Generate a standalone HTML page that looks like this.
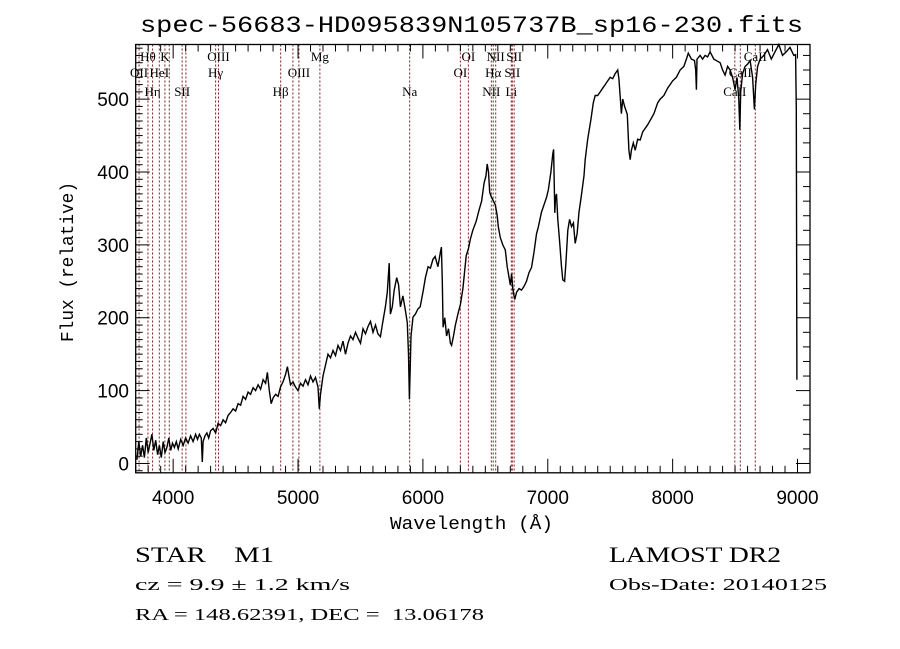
<!DOCTYPE html>
<html><head><meta charset="utf-8"><style>
html,body{margin:0;padding:0;background:#fff;}
svg{display:block;}
text{white-space:pre;}
</style></head><body>
<svg id="chart" width="900" height="649" viewBox="0 0 900 649" xmlns="http://www.w3.org/2000/svg" xml:space="preserve">
<rect x="0" y="0" width="900" height="649" fill="#fff"/>
<text x="140" y="32" font-family="Liberation Mono, monospace" font-size="23" textLength="663" lengthAdjust="spacingAndGlyphs">spec-56683-HD095839N105737B_sp16-230.fits</text>
<g id="lines"></g>
<g id="ticks"></g>
<path id="spec" fill="none" stroke="#000" stroke-width="1.4" stroke-linejoin="miter"/>
<rect x="135.7" y="44.5" width="674.3" height="428.3" fill="none" stroke="#000" stroke-width="1.3"/>
<text x="390" y="529" font-family="Liberation Mono, monospace" font-size="18" textLength="163" lengthAdjust="spacingAndGlyphs">Wavelength (Å)</text>
<text transform="translate(73,262) rotate(-90)" text-anchor="middle" font-family="Liberation Mono, monospace" font-size="18" textLength="160" lengthAdjust="spacingAndGlyphs">Flux (relative)</text>
<g font-family="Liberation Serif, serif" fill="#000">
<text x="135" y="562" font-size="22" textLength="139" lengthAdjust="spacingAndGlyphs">STAR    M1</text>
<text x="135" y="590" font-size="17" textLength="215" lengthAdjust="spacingAndGlyphs">cz = 9.9 ± 1.2 km/s</text>
<text x="135" y="620" font-size="17" textLength="349" lengthAdjust="spacingAndGlyphs">RA = 148.62391, DEC =  13.06178</text>
<text x="609" y="562" font-size="22" textLength="172" lengthAdjust="spacingAndGlyphs">LAMOST DR2</text>
<text x="609" y="590" font-size="17" textLength="218" lengthAdjust="spacingAndGlyphs">Obs-Date: 20140125</text>
</g>
</svg>
<script>
const wavelengths=[3710,3725,3740,3755,3770,3785,3800,3815,3830,3845,3860,3875,3890,3905,3920,3935,3950,3965,3980,3995,4010,4025,4040,4060,4080,4100,4120,4140,4160,4180,4195,4210,4225,4233,4240,4255,4270,4285,4300,4320,4340,4360,4380,4400,4420,4440,4460,4480,4500,4520,4540,4560,4580,4600,4620,4640,4660,4680,4700,4720,4740,4755,4770,4785,4800,4820,4840,4860,4880,4900,4915,4925,4940,4960,4980,5000,5020,5040,5060,5080,5100,5120,5140,5160,5170,5180,5200,5220,5240,5260,5280,5300,5320,5340,5360,5380,5400,5420,5440,5460,5480,5500,5520,5540,5560,5580,5600,5620,5640,5660,5680,5700,5715,5730,5740,5755,5770,5790,5805,5820,5840,5860,5875,5885,5892,5898,5905,5921,5940,5960,5978,6002,6020,6042,6060,6080,6098,6120,6140,6148,6155,6162,6175,6190,6205,6220,6230,6245,6260,6280,6300,6320,6347,6365,6380,6400,6426,6450,6470,6490,6505,6515,6525,6535,6550,6565,6580,6595,6604,6620,6640,6660,6675,6690,6700,6710,6720,6735,6750,6770,6790,6810,6830,6850,6870,6890,6910,6925,6950,6970,6990,7005,7025,7040,7047,7052,7056,7062,7070,7080,7095,7110,7120,7135,7145,7160,7175,7190,7205,7220,7235,7250,7270,7290,7300,7320,7345,7365,7380,7400,7420,7440,7460,7480,7500,7520,7540,7560,7570,7590,7600,7615,7637,7650,7660,7670,7685,7700,7720,7740,7760,7780,7800,7820,7850,7880,7900,7930,7960,7980,8000,8030,8060,8090,8110,8125,8150,8175,8185,8190,8195,8220,8240,8260,8280,8300,8330,8360,8380,8400,8420,8440,8460,8480,8500,8515,8530,8538,8545,8560,8580,8600,8620,8640,8655,8665,8680,8700,8730,8760,8790,8820,8850,8880,8910,8940,8970,8985,8990,8995];
const fluxes=[5,30,10,25,8,35,15,28,40,18,32,12,25,8,30,15,22,35,18,28,22,30,20,33,25,35,28,38,30,40,33,40,35,2,30,38,42,35,45,48,42,55,52,60,56,66,70,75,72,82,80,92,88,98,95,104,100,108,102,115,110,125,100,82,90,95,92,105,112,122,133,122,108,112,105,100,110,106,115,108,120,112,118,105,75,95,120,135,150,145,155,148,162,155,168,150,165,175,170,180,172,165,185,178,188,195,180,190,178,174,195,215,235,275,205,215,238,255,245,215,230,210,193,150,88,130,175,201,205,212,215,237,255,270,268,280,284,270,290,297,250,187,200,175,185,165,162,175,190,205,218,240,285,295,308,320,332,348,360,385,395,411,400,372,365,360,355,340,325,310,300,293,270,255,245,260,240,225,235,240,238,243,250,262,269,290,315,325,345,355,365,376,400,425,431,380,344,365,370,335,305,270,252,250,275,320,335,325,330,302,315,345,369,395,417,445,472,495,505,505,510,515,520,525,530,528,535,540,528,480,500,490,479,430,417,430,440,430,445,444,455,460,465,471,480,495,500,505,515,520,525,530,540,545,555,563,555,553,540,513,555,560,555,560,558,565,555,552,550,540,533,545,540,530,513,530,500,458,510,535,545,548,553,530,486,520,545,555,560,568,555,565,575,560,565,571,560,561,486,115];
const lineWaves=[3727,3798,3835,3889,3934,3969,4072,4102,4340,4363,4861,4959,5007,5175,5894,6300,6364,6548,6563,6583,6708,6716,6731,8498,8542,8662];
const lineLabels=["OII","Hθ","Hη","HeI","K","","SII","","Hγ","OIII","Hβ","","OIII","Mg","Na","OI","OI","NII","Hα","NII","Li","SII","SII","CaII","CaII","CaII"];
const lineRows=[2,1,3,2,1,0,3,0,2,1,3,0,2,1,3,2,1,3,2,1,3,2,1,3,2,1];
const xTickLabels=["4000","5000","6000","7000","8000","9000"];
const yTickLabels=["0","100","200","300","400","500"];
const X0=135.7,X1=810,Y0=472.8,Y1=44.5,WMIN=3700,WMAX=9100,FMIN=-12.8,FMAX=575;
const xs=w=>X0+(w-WMIN)/(WMAX-WMIN)*(X1-X0);
const ys=f=>Y0-(f-FMIN)/(FMAX-FMIN)*(Y0-Y1);
const NS="http://www.w3.org/2000/svg";
function mk(tag,attrs,parent){const e=document.createElementNS(NS,tag);for(const k in attrs)e.setAttribute(k,attrs[k]);parent.appendChild(e);return e;}
let d="";
for(let i=0;i<wavelengths.length;i++){d+=(i?"L":"M")+xs(wavelengths[i]).toFixed(1)+" "+ys(fluxes[i]).toFixed(1);}
document.getElementById("spec").setAttribute("d",d);
const lg=document.getElementById("lines");
const rowY=[0,61,77,96];
for(let i=0;i<lineWaves.length;i++){
  const x=xs(lineWaves[i]);
  const ln=mk("line",{x1:x,x2:x,y1:Y1,y2:Y0,stroke:"#7a1f1f","stroke-width":"1","stroke-dasharray":"2,2"},lg);
  
  
  if(lineLabels[i]){
    const t=mk("text",{x:x,y:rowY[lineRows[i]],"text-anchor":"middle","font-family":"Liberation Serif, serif","font-size":"13"},lg);
    t.textContent=lineLabels[i];
    
    
  }
}
const tg=document.getElementById("ticks");
for(let w=3700;w<=9100;w+=100){
  const x=xs(w);const major=(w%1000===0);const L=major?14:7;
  mk("line",{x1:x,x2:x,y1:Y0,y2:Y0-L,stroke:"#000","stroke-width":"1"},tg);
  mk("line",{x1:x,x2:x,y1:Y1,y2:Y1+L,stroke:"#000","stroke-width":"1"},tg);
}
for(let i=0;i<xTickLabels.length;i++){
  const t=mk("text",{x:xs(+xTickLabels[i]),y:504,"text-anchor":"middle","font-family":"Liberation Sans, sans-serif","font-size":"19"},tg);
  t.textContent=xTickLabels[i];
  
  
}
for(let f=-10;f<=570;f+=10){
  const y=ys(f);const major=(f%100===0);
  mk("line",{x1:X0,x2:X0+(major?14:7),y1:y,y2:y,stroke:"#000","stroke-width":"1"},tg);
  if(f%20===0)mk("line",{x1:X1,x2:X1-(major?14:7),y1:y,y2:y,stroke:"#000","stroke-width":"1"},tg);
}
for(let i=0;i<yTickLabels.length;i++){
  const t=mk("text",{x:129,y:ys(+yTickLabels[i])+7,"text-anchor":"end","font-family":"Liberation Sans, sans-serif","font-size":"19"},tg);
  t.textContent=yTickLabels[i];
  
  
}
</script>
</body></html>
